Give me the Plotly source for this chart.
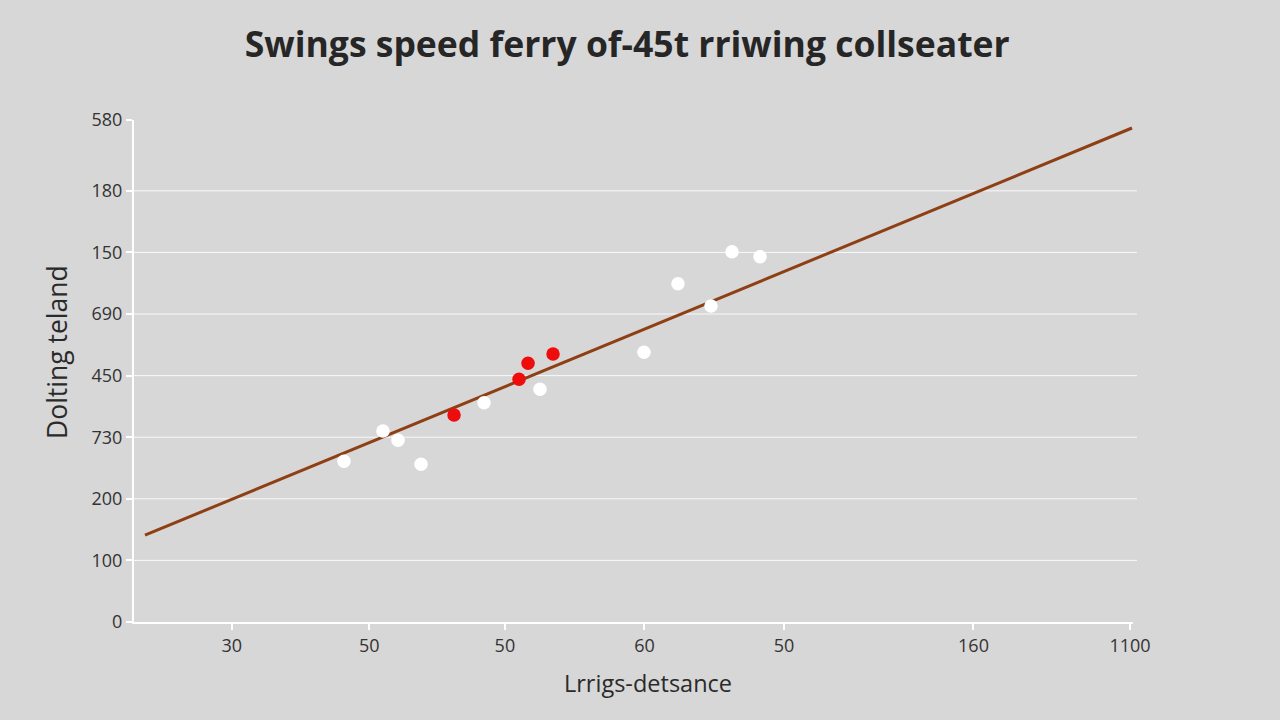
import plotly.graph_objects as go

# Axis tick positions and labels (as printed on the chart)
x_tick_pos = [0.98, 2.36, 3.72, 5.12, 6.52, 8.42, 9.99]
x_tick_text = ["30", "50", "50", "60", "50", "160", "1100"]
y_tick_pos = [0, 1, 2, 3, 4, 5, 6, 7, 8.15]
y_tick_text = ["0", "100", "200", "730", "450", "690", "150", "180", "580"]

# White (regular) points
white_x = [2.106, 2.497, 2.648, 2.879, 3.511, 4.072, 5.115, 5.456, 5.787, 5.998, 6.279]
white_y = [2.61, 3.10, 2.95, 2.56, 3.56, 3.78, 4.38, 5.49, 5.13, 6.01, 5.93]

# Red (highlighted) points
red_x = [3.210, 3.862, 3.952, 4.203]
red_y = [3.36, 3.94, 4.20, 4.35]

# Trend line end points
trend_x = [0.11, 10.01]
trend_y = [1.41, 8.02]

BG = "#d7d7d7"

fig = go.Figure()
fig.add_trace(go.Scatter(x=trend_x, y=trend_y, mode="lines",
                         line=dict(color="#8e3f14", width=3), showlegend=False,
                         hoverinfo="skip"))
fig.add_trace(go.Scatter(x=white_x, y=white_y, mode="markers",
                         marker=dict(color="white", size=13.5, line=dict(width=0)),
                         showlegend=False))
fig.add_trace(go.Scatter(x=red_x, y=red_y, mode="markers",
                         marker=dict(color="#ee0c0c", size=13.5, line=dict(width=0)),
                         showlegend=False))

# horizontal grid lines at the labelled levels (except the top one)
for yv in y_tick_pos[1:-1]:
    fig.add_shape(type="line", xref="paper", yref="y", x0=0, x1=1.004, y0=yv, y1=yv,
                  line=dict(color="rgba(255,255,255,0.85)", width=1), layer="below")

# axis titles
fig.add_annotation(text="Dolting teland", xref="paper", yref="paper",
                   x=-0.077, y=0.538, xanchor="center", yanchor="middle",
                   textangle=-90, showarrow=False,
                   font=dict(family="Open Sans", size=26.5, color="#2a2a2a"))
fig.add_annotation(text="Lrrigs-detsance", xref="paper", yref="paper",
                   x=0.515, y=-0.122, xanchor="center", yanchor="middle",
                   showarrow=False,
                   font=dict(family="Open Sans", size=23.5, color="#2a2a2a"))

fig.update_layout(
    width=1280, height=720,
    paper_bgcolor=BG, plot_bgcolor=BG,
    margin=dict(l=134, r=147, t=120, b=98),
    title=dict(text="Swings speed ferry of-45t rriwing collseater",
               x=0.49, xanchor="center", y=0.938, yanchor="middle",
               font=dict(family="Open Sans", size=35.5, color="#262626", weight=700)),
    font=dict(family="Open Sans", color="#333333"),
    xaxis=dict(range=[0, 10.02], tickvals=x_tick_pos, ticktext=x_tick_text,
               showgrid=False, zeroline=False, showline=True, linecolor="white",
               linewidth=2, ticks="outside", tickcolor="white", ticklen=6,
               tickwidth=1.5, tickfont=dict(size=18, color="#333333")),
    yaxis=dict(range=[0, 8.15], tickvals=y_tick_pos, ticktext=y_tick_text,
               showgrid=False, zeroline=False, showline=True, linecolor="white",
               linewidth=2, ticks="outside", tickcolor="white", ticklen=6,
               tickwidth=1.5, tickfont=dict(size=18, color="#333333")),
)

fig.write_html("out.html", config={"displayModeBar": False},
               post_script="document.body.style.margin='0';"
                           "document.body.style.background='#d7d7d7';")
